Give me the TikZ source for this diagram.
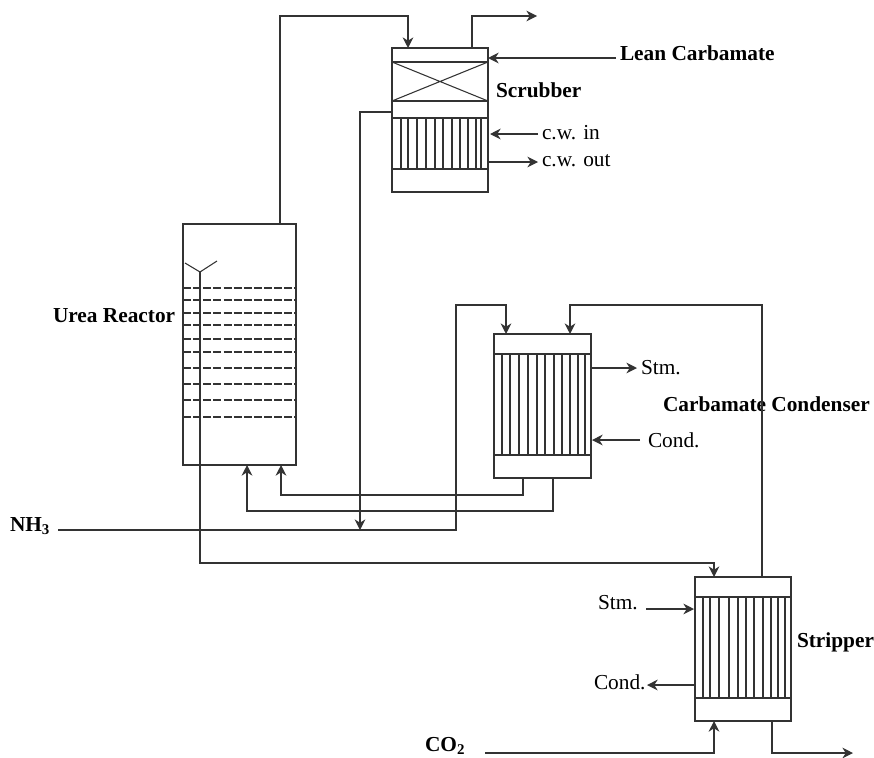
\documentclass[tikz,border=0pt]{standalone}
\usepackage{fontspec}
\setmainfont{Liberation Serif}
\usetikzlibrary{arrows.meta,positioning,calc}
\definecolor{pipe}{HTML}{333333}

\begin{document}
\begin{tikzpicture}[
  x=0.75pt, y=-0.75pt,
  every node/.style={font=\fontsize{16pt}{18pt}\selectfont, text=black, inner sep=0pt, outer sep=0pt},
  vessel/.style={draw=pipe, line width=0.9pt, fill=white},
  inner/.style={draw=pipe, line width=0.8pt},
  tray/.style={draw=pipe, line width=1pt, dash pattern=on 6pt off 1.6pt},
  arr/.style={-{Stealth[length=8pt,width=8pt]}, draw=pipe, line width=0.9pt},
  tag/.style={font=\bfseries\fontsize{16pt}{18pt}\selectfont}
]
  \useasboundingbox (0,0) rectangle (874,757);

  % vessels
  \node[vessel, minimum width=72pt, minimum height=108pt] (scrubber) at (440,120) {};
  \node[vessel, minimum width=84.75pt, minimum height=180.75pt] (reactor) at (239.5,344.5) {};
  \node[vessel, minimum width=72.75pt, minimum height=108pt] (condenser) at (542.5,406) {};
  \node[vessel, minimum width=72pt, minimum height=108pt] (stripper) at (743,649) {};

  % scrubber internals
  \draw[inner] (392,62) -- (488,62) (392,101) -- (488,101) (392,118) -- (488,118) (392,169) -- (488,169);
  \draw[inner] (392,62) -- (488,101) (392,101) -- (488,62);
  \foreach \dx in {9,16,25,34,43,51,60,68,76,84,89}
    \draw[inner] (392+\dx,118) -- (392+\dx,169);

  % reactor internals
  \foreach \ty in {288,300,313,325,339,352,368,384,400,417}
    \draw[tray] (183,\ty) -- (296,\ty);
  \coordinate (funnel) at (200,272);
  \draw[inner] (185,263) -- (funnel) -- (217,261);

  % condenser internals
  \draw[inner] (494,354) -- (591,354) (494,455) -- (591,455);
  \foreach \dx in {8,16,25,34,43,51,60,68,76,84,91}
    \draw[inner] (494+\dx,354) -- (494+\dx,455);

  % stripper internals
  \draw[inner] (695,597) -- (791,597) (695,698) -- (791,698);
  \foreach \dx in {8,15,24,34,43,51,59,68,76,83,90}
    \draw[inner] (695+\dx,597) -- (695+\dx,698);

  % labels
  \node[tag, anchor=west] (leanlabel) at (620,53) {Lean Carbamate};
  \node[tag, anchor=west] (scrublabel) at (496,90) {Scrubber};
  \node[anchor=west] (cwin) at (542,133) {c.w. in};
  \node[anchor=west] (cwout) at (542,161) {c.w. out};
  \node[tag, anchor=west] (urealabel) at (53,316) {Urea Reactor};
  \node[anchor=west] (stmout) at (641,368) {Stm.};
  \node[tag, anchor=west] (condlabel) at (663,404) {Carbamate Condenser};
  \node[anchor=west] (condin) at (648,440) {Cond.};
  \node[tag, anchor=west] (nhlabel) at (10,526) {NH$_{\mathbf 3}$};
  \node[anchor=west] (stmin) at (598,603) {Stm.};
  \node[tag, anchor=west] (striplabel) at (797,642) {Stripper};
  \node[anchor=west] (condout) at (594,682) {Cond.};
  \node[tag, anchor=west] (colabel) at (425,746) {CO$_{\mathbf 2}$};

  % free ends
  \coordinate (topout) at (537,16);
  \coordinate (botout) at (853,753);
  \coordinate (nhstart) at (58,530);
  \coordinate (nhjoin) at (360,530);
  \coordinate (costart) at (485,753);
  \coordinate (leanstart) at (616,58);
  \coordinate (stminstart) at (646,609);

  % connectors
  \draw[arr] (280,224) -- (280,16) -- (408,16) -- (408,48);
  \draw[arr] (472,48) -- (472,16) -- (topout);
  \draw[arr] (leanstart) -- (488,58);
  \draw[arr] (538,134) -- (490,134);
  \draw[arr] (488,162) -- (538,162);
  \draw[arr] (392,112) -- (360,112) -- (nhjoin);
  \draw[arr] (nhstart) -- (456,530) -- (456,305) -- (506,305) -- (506,334);
  \draw[arr] (523,478) -- (523,495) -- (281,495) -- (281,465);
  \draw[arr] (553,478) -- (553,511) -- (247,511) -- (247,465);
  \draw[arr] (591,368) -- (637,368);
  \draw[arr] (640,440) -- (592,440);
  \draw[arr] (762,577) -- (762,305) -- (570,305) -- (570,334);
  \draw[arr] (funnel) -- (200,563) -- (714,563) -- (714,577);
  \draw[arr] (stminstart) -- (694,609);
  \draw[arr] (695,685) -- (647,685);
  \draw[arr] (costart) -- (714,753) -- (714,721);
  \draw[arr] (772,721) -- (772,753) -- (botout);
\end{tikzpicture}
\end{document}
